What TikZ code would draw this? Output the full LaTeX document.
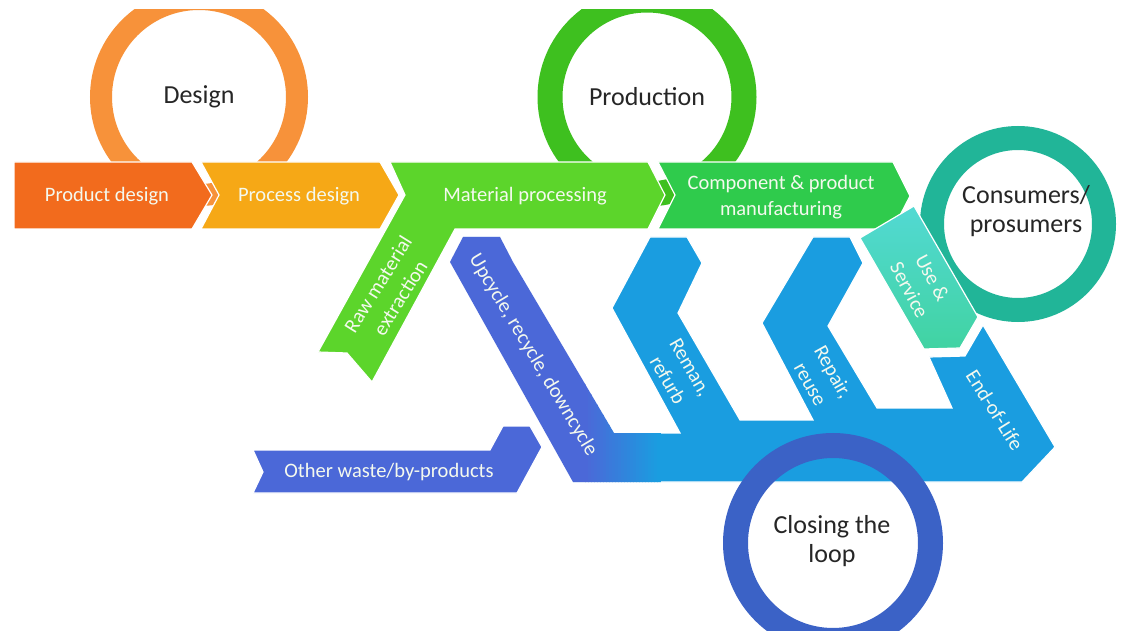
\documentclass[tikz,border=0pt]{standalone}
\usepackage{fontspec}
\setmainfont{Carlito}
\definecolor{prodred}{HTML}{F26B1D}
\definecolor{procyel}{HTML}{F6A816}
\definecolor{designorange}{HTML}{F7923A}
\definecolor{matgreen}{HTML}{5CD52B}
\definecolor{prodgreen}{HTML}{3EC01F}
\definecolor{compgreen}{HTML}{2FCB4C}
\definecolor{usetealtop}{HTML}{52D9D3}
\definecolor{usetealbot}{HTML}{41D3A2}
\definecolor{consteal}{HTML}{21B598}
\definecolor{loopblue}{HTML}{1A9DE0}
\definecolor{loopviolet}{HTML}{4B68D8}
\definecolor{closeblue}{HTML}{3B62C6}
\definecolor{txtwhite}{HTML}{F4F9EE}
\tikzset{
  band/.style={draw=white, line width=1.2pt},
  lbl/.style={text=txtwhite, font=\fontsize{20.5}{26}\selectfont, align=center, inner sep=0pt},
  ringtitle/.style={text=black!85, font=\fontsize{26}{29}\selectfont, align=center, inner sep=0pt}
}

\begin{document}
\begin{tikzpicture}[x=1pt, y=-1pt]
  \useasboundingbox (0,0) rectangle (1128,631);
  \fill[white] (0,0) rectangle (1128,631);
  \begin{scope}
    \clip (0,10) rectangle (1128,631);
    % rings behind the top band
    \coordinate (cdesign) at (199,97);
    \coordinate (cprod) at (647,97);
    \coordinate (ccons) at (1018,224);
    \coordinate (cloop) at (833,543);
    \draw[designorange, line width=22pt] (cdesign) circle (98pt);
    \draw[prodgreen, line width=25pt] (cprod) circle (97pt);
    % top band
    \fill[prodred, band] (14,162) -- (192,162) -- (212,195) -- (192,229) -- (14,229) -- cycle;
    \fill[procyel, band] (201,162) -- (380,162) -- (399,195) -- (380,229) -- (201,229) -- (219,195) -- cycle;
    \fill[matgreen, band] (390,162) -- (648,162) -- (665,195) -- (648,229) -- (455,229)
      -- (372,382) -- (347,353) -- (318,352) -- (405,195) -- cycle;
    \fill[compgreen, band] (658,162) -- (893,162) -- (910,196) -- (893,229) -- (658,229) -- (675,195) -- cycle;
    % consumers
    \draw[consteal, line width=24pt] (ccons) circle (86pt);
    \shade[top color=usetealtop, bottom color=usetealbot, band]
      (860,238) -- (914,206) -- (978,317) -- (960,348) -- (924,349) -- cycle;
    % closing the loop arms
    \fill[loopblue, band] (450,262) -- (463,237) -- (500,237) -- (513,262) -- (614,433)
      -- (680,433) -- (612,308) -- (650,237) -- (687,237) -- (702,263) -- (678,313)
      -- (740,420) -- (813,420) -- (762,323) -- (813,237) -- (850,237) -- (863,263)
      -- (828,326) -- (877,408) -- (952,408) -- (929,357) -- (965,356) -- (983,325)
      -- (1055,447) -- (1022,482) -- (573,482) -- cycle;
    \begin{scope}
      \clip (450,262) -- (463,237) -- (500,237) -- (513,262) -- (614,433) -- (680,433)
        -- (680,482) -- (573,482) -- cycle;
      \fill[loopviolet] (430,230) rectangle (586,490);
      \foreach \i in {0,...,24} {
        \pgfmathtruncatemacro{\pct}{100-\i*100/24}
        \fill[loopviolet!\pct!loopblue] ({585+\i*3},230) rectangle ({589+\i*3},490);
      }
    \end{scope}
    \fill[loopviolet, band] (253,450) -- (490,450) -- (503,426) -- (530,426) -- (542,447)
      -- (517,493) -- (253,493) -- (263,472) -- cycle;
    \draw[closeblue, line width=25pt] (cloop) circle (97.5pt);
  \end{scope}
  % labels
  \node[lbl] (lprod) at (107,196) {Product design};
  \node[lbl] (lproc) at (299,196) {Process design};
  \node[lbl] (lmat) at (525,196) {Material processing};
  \node[lbl] (lcomp) at (781,197) {Component \& product\\manufacturing};
  \node[lbl, rotate=58] (lraw) at (389,291) {Raw material\\extraction};
  \node[lbl, rotate=-59] (lup) at (533,355) {Upcycle, recycle, downcycle};
  \node[lbl, rotate=-60] (lreman) at (679,374) {Reman,\\refurb};
  \node[lbl, rotate=-61] (lrepair) at (822,378) {Repair,\\reuse};
  \node[lbl, rotate=-62] (luse) at (921,284) {Use \&\\Service};
  \node[lbl, rotate=-58] (leol) at (995,410) {End-of-Life};
  \node[lbl] (lwaste) at (389,472) {Other waste/by-products};
  \node[ringtitle] (tdesign) at (cdesign) {Design};
  \node[ringtitle] (tprod) at (cprod) {Production};
  \node[ringtitle] (tcons) at (1026,211) {Consumers/\\prosumers};
  \node[ringtitle] (tloop) at (832,541) {Closing the\\loop};
\end{tikzpicture}
\end{document}
